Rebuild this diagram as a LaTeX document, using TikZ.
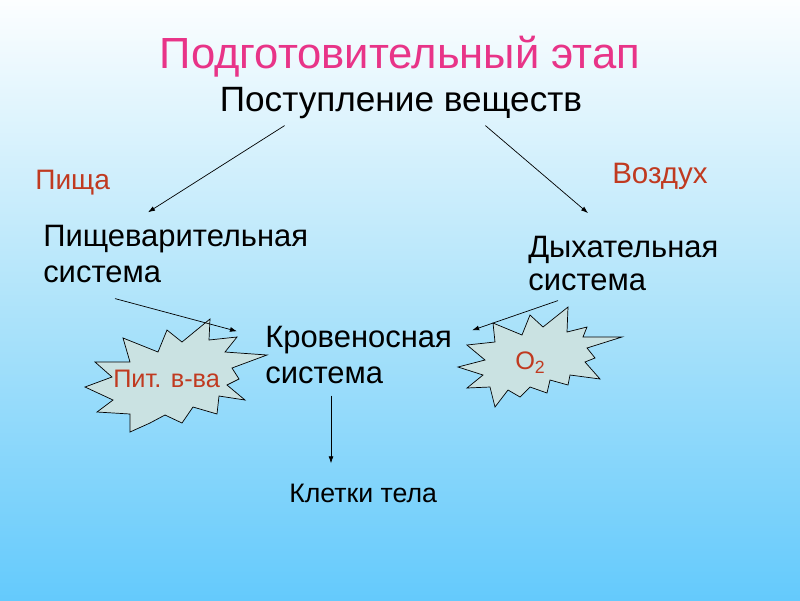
\documentclass[tikz,border=0pt]{standalone}
\usepackage{fontspec}
\setmainfont{Liberation Sans}
\usepackage{tikz}
\usetikzlibrary{arrows, shapes, backgrounds, positioning, calc, arrows.meta}

\definecolor{titlepink}{RGB}{232,52,136}
\definecolor{brickred}{RGB}{192,58,32}
\definecolor{burstfill}{RGB}{202,226,226}
\definecolor{skytop}{RGB}{252,254,255}
\definecolor{skymid}{RGB}{176,228,250}
\definecolor{skybot}{RGB}{100,202,252}

\begin{document}
\begin{tikzpicture}[
      x=0.025cm, y=-0.025cm,
      >=stealth,
      arr/.style = {->, line width=0.5pt, -{Latex[length=5pt,width=3.5pt]}},
      lbl/.style = {inner sep=0pt, align=left, anchor=base west,
                    font=\fontsize{22}{25}\selectfont},
      tag/.style = {inner sep=0pt, anchor=base west, text=brickred,
                    font=\fontsize{20}{24}\selectfont},
      burst/.style = {draw=black, line width=0.5pt, fill=burstfill}
    ]

    % background
    \shade[top color=skytop, bottom color=skybot, middle color=skymid]
      (0,0) rectangle (800,600);
    \useasboundingbox (0,0) rectangle (800,600);

    \node[anchor=base, inner sep=0pt, text=titlepink,
          font=\fontsize{31}{35}\selectfont] (title) at (400,68) {Подготовительный этап};
    \node[anchor=base, inner sep=0pt,
          font=\fontsize{25}{29}\selectfont] (subst) at (401,111) {Поступление веществ};

    \node[tag] (food) at (35,189) {Пища};
    \node[tag, font=\fontsize{21}{25}\selectfont] (air) at (612,183) {Воздух};

    % base = last line
    \node[lbl] (digest) at (43,282)  {Пищеварительная\\система};
    \node[lbl, font=\fontsize{22}{23}\selectfont] (resp) at (528,290) {Дыхательная\\система};
    \node[lbl] (blood)  at (265,383) {Кровеносная\\система};
    \node[lbl, font=\fontsize{19}{22}\selectfont] (cells) at (289,502) {Клетки тела};

    % starbursts
    \filldraw[burst] (123,338) -- (158,352) -- (167,330) -- (182,342) -- (210,319)
      -- (209,340) -- (237,337) -- (225,352) -- (267,355) -- (232,368) -- (239,379)
      -- (227,385) -- (245,400) -- (219,396) -- (217,414) -- (193,407) -- (182,423)
      -- (165,415) -- (150,423) -- (130,432) -- (130,414) -- (97,412) -- (113,400)
      -- (85,387) -- (112,377) -- (95,362) -- (130,362) -- cycle;
    \filldraw[burst] (493,323) -- (522,335) -- (530,315) -- (543,327) -- (568,307)
      -- (567,332) -- (587,327) -- (583,337) -- (622,337) -- (587,348) -- (595,358)
      -- (585,362) -- (600,379) -- (570,375) -- (568,385) -- (550,380) -- (547,393)
      -- (530,387) -- (520,397) -- (508,390) -- (495,407) -- (490,387) -- (467,388)
      -- (483,375) -- (458,367) -- (485,360) -- (467,345) -- (495,342) -- cycle;

    \node[tag, font=\fontsize{18}{22}\selectfont] (nutr) at (113,387) {Пит. в-ва};
    \node[tag, font=\fontsize{18}{22}\selectfont] (oxy)  at (515,369)
      {O\textsubscript{2}};

    \draw[arr] ([shift={(65,7)}]subst.south west) -- ([shift={(105,-13)}]digest.north west);
    \draw[arr] ([shift={(-97,7)}]subst.south east) -- ([shift={(60,-23)}]resp.north west);
    \draw[arr] ([shift={(72,16)}]digest.south west) -- ([shift={(-28,5)}]blood.north west);
    \draw[arr] ([shift={(30,10)}]resp.south west) -- ([shift={(20,4)}]blood.north east);
    \draw[arr] ([shift={(66,12)}]blood.south west) coordinate (b1)
      -- ([yshift=0.5cm]b1 |- cells.north);

  \end{tikzpicture}
\end{document}
